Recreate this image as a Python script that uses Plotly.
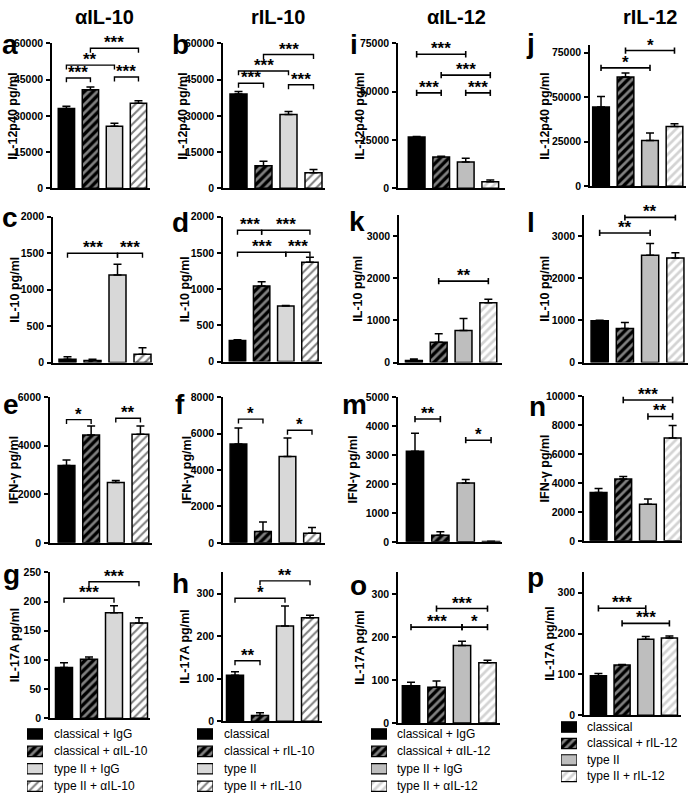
import plotly.graph_objects as go

FONT = "Liberation Sans, Arial, sans-serif"
W, H = 689, 801

# ---------------- data ----------------
column_titles = ["αIL-10", "rIL-10", "αIL-12", "rIL-12"]

a_values = [33000, 40800, 25700, 35200]; a_errors = [1000, 1100, 1200, 1000]
b_values = [39000, 9300, 30500, 6400];   b_errors = [1100, 1900, 1300, 1400]
i_values = [26500, 16200, 13600, 3300];  i_errors = [300, 300, 1900, 900]
j_values = [44400, 61300, 25600, 33500]; j_errors = [5900, 2200, 4200, 1500]
c_values = [45, 30, 1200, 115];          c_errors = [35, 15, 148, 90]
d_values = [290, 1043, 768, 1372];       d_errors = [12, 60, 6, 68]
k_values = [50, 480, 760, 1420];         k_errors = [35, 205, 285, 80]
l_values = [990, 810, 2540, 2480];       l_errors = [10, 140, 280, 120]
e_values = [3180, 4440, 2480, 4470];     e_errors = [230, 370, 90, 340]
f_values = [5420, 620, 4740, 530];       f_errors = [880, 520, 1010, 310]
m_values = [3130, 225, 2030, 15];        m_errors = [620, 125, 120, 8]
n_values = [3340, 4280, 2530, 7110];     n_errors = [270, 160, 360, 860]
g_values = [87, 101, 181, 163];          g_errors = [8, 4, 12, 9]
h_values = [108, 13, 224, 243];          h_errors = [8, 7, 47, 6]
o_values = [87, 83, 180, 140];           o_errors = [8, 15, 10, 6]
p_values = [97, 123, 186, 189];          p_errors = [5, 1.5, 7, 5]

# significance brackets: (bar from, bar to, height, label)
a_sig = [(0, 1, 45700, "***"), (0, 2, 51000, "**"), (1, 3, 58000, "***"), (2, 3, 46100, "***")]
b_sig = [(0, 1, 43500, "***"), (0, 2, 48600, "***"), (1, 3, 55400, "***"), (2, 3, 42900, "***")]
i_sig = [(0, 2, 69400, "***"), (0, 1, 49400, "***"), (1, 3, 58600, "***"), (2, 3, 49400, "***")]
j_sig = [(0, 2, 66400, "*"), (1, 3, 76100, "*")]
c_sig = [(0, 2, 1500, "***"), (2, 3, 1500, "***")]
d_sig = [(0, 1, 1814, "***"), (1, 3, 1814, "***"), (0, 2, 1510, "***"), (2, 3, 1510, "***")]
k_sig = [(1, 3, 1930, "**")]
l_sig = [(0, 2, 3070, "**"), (1, 3, 3440, "**")]
e_sig = [(0, 1, 5070, "*"), (2, 3, 5130, "**")]
f_sig = [(0, 1, 6790, "*"), (2, 3, 6180, "*")]
m_sig = [(0, 1, 4240, "**"), (2, 3, 3510, "*")]
n_sig = [(1, 3, 9730, "***"), (2, 3, 8590, "**")]
g_sig = [(0, 2, 205.6, "***"), (1, 3, 234, "***")]
h_sig = [(0, 1, 142, "**"), (0, 2, 289, "*"), (1, 3, 330, "**")]
o_sig = [(1, 3, 266, "***"), (0, 2, 223, "***"), (2, 3, 223, "*")]
p_sig = [(0, 2, 262, "***"), (1, 3, 225, "***")]

# y axis: (max, tick step, title)
axis_specs = {
    "a": (60000, 15000, "IL-12p40 pg/ml"), "b": (60000, 15000, "IL-12p40 pg/ml"),
    "i": (75000, 25000, "IL-12p40 pg/ml"), "j": (79000, 25000, "IL-12p40 pg/ml"),
    "c": (2000, 500, "IL-10 pg/ml"), "d": (2000, 500, "IL-10 pg/ml"),
    "k": (3500, 1000, "IL-10 pg/ml"), "l": (3500, 1000, "IL-10 pg/ml"),
    "e": (6000, 2000, "IFN-γ pg/ml"), "f": (8000, 2000, "IFN-γ pg/ml"),
    "m": (5000, 1000, "IFN-γ pg/ml"), "n": (10000, 2000, "IFN-γ pg/ml"),
    "g": (250, 50, "IL-17A pg/ml"), "h": (350, 100, "IL-17A pg/ml"),
    "o": (350, 100, "IL-17A pg/ml"), "p": (350, 100, "IL-17A pg/ml"),
}

legend_g = ["classical + IgG", "classical + αIL-10", "type II + IgG", "type II + αIL-10"]
legend_h = ["classical", "classical + rIL-10", "type II", "type II + rIL-10"]
legend_o = ["classical + IgG", "classical + αIL-12", "type II + IgG", "type II + αIL-12"]
legend_p = ["classical", "classical + rIL-12", "type II", "type II + rIL-12"]

data = {
    "a": (a_values, a_errors, a_sig), "b": (b_values, b_errors, b_sig),
    "i": (i_values, i_errors, i_sig), "j": (j_values, j_errors, j_sig),
    "c": (c_values, c_errors, c_sig), "d": (d_values, d_errors, d_sig),
    "k": (k_values, k_errors, k_sig), "l": (l_values, l_errors, l_sig),
    "e": (e_values, e_errors, e_sig), "f": (f_values, f_errors, f_sig),
    "m": (m_values, m_errors, m_sig), "n": (n_values, n_errors, n_sig),
    "g": (g_values, g_errors, g_sig), "h": (h_values, h_errors, h_sig),
    "o": (o_values, o_errors, o_sig), "p": (p_values, p_errors, p_sig),
}
legends = {"g": legend_g, "h": legend_h, "o": legend_o, "p": legend_p}

# ---------------- layout (pixels) ----------------
# x0, x1, ytop, ybot, xr0, xr1
boxes = {
    "a": (52, 150, 38, 185, -0.60, 3.48), "b": (223, 325, 38, 185, -0.62, 3.46),
    "i": (398, 505, 38, 185, -0.76, 3.60), "j": (590, 686, 40, 183, -0.45, 3.47),
    "c": (53, 153, 214, 362, -0.58, 3.42), "d": (223, 322, 214, 361, -0.60, 3.50),
    "k": (399, 502, 212, 362, -0.60, 3.55), "l": (584, 688, 212, 362, -0.62, 3.50),
    "e": (50, 152, 397, 545, -0.67, 3.47), "f": (223, 325, 397, 545, -0.63, 3.53),
    "m": (398, 502, 397, 544, -0.67, 3.43), "n": (584, 682, 396, 543, -0.59, 3.38),
    "g": (50, 150, 575, 723, -0.56, 3.44), "h": (223, 322, 575, 726, -0.48, 3.48),
    "o": (398, 500, 575, 728, -0.51, 3.49), "p": (584, 681, 575, 720, -0.61, 3.49),
}
letter_pos = {  # center x, baseline y
    "a": (10, 47), "b": (180, 47), "i": (354, 47), "j": (530, 46),
    "c": (10, 223), "d": (181, 228), "k": (357, 227), "l": (531, 228),
    "e": (11, 413), "f": (180, 413), "m": (354, 413), "n": (537, 415),
    "g": (11, 586), "h": (180, 595), "o": (358, 597), "p": (535, 589),
}
ytitle_x = {"a": 13, "b": 183, "i": 360, "j": 545, "c": 15, "d": 185, "k": 358, "l": 545,
            "e": 14, "f": 187, "m": 353, "n": 545, "g": 15, "h": 185, "o": 360, "p": 550}
# legend swatch box: x0, x1, first row center, row pitch, text x
legend_box = {"g": (27, 43, 739, 17.7, 52), "h": (197, 213, 739, 17.7, 222),
              "o": (371, 387, 739, 17.7, 395), "p": (561, 577, 732, 16.7, 585)}
col_title_x = [104, 278, 456, 650]

left_cols = set("abcdefgh")


def styles(panel):
    left = panel in left_cols
    black = dict(color="black", line=dict(color="black", width=1.5))
    hatch_b = dict(color="black", line=dict(color="black", width=1.5),
                   pattern=dict(shape="/", bgcolor="black", fgcolor="white", size=6, solidity=0.45))
    gray = dict(color="#d8d8d8" if left else "#bebebe", line=dict(color="black", width=1.5))
    if left:
        hatch_w = dict(color="white", line=dict(color="black", width=1.5),
                       pattern=dict(shape="/", bgcolor="white", fgcolor="black", size=6, solidity=0.35))
    else:
        hatch_w = dict(color="white", line=dict(color="black", width=1.5),
                       pattern=dict(shape="/", bgcolor="white", fgcolor="#a8a8a8", size=6, solidity=0.45))
    return [black, hatch_b, gray, hatch_w]


fig = go.Figure()
layout = dict(width=W, height=H, margin=dict(l=0, r=0, t=0, b=0), autosize=False,
              paper_bgcolor="white", plot_bgcolor="rgba(0,0,0,0)", barmode="overlay",
              showlegend=False, font=dict(family=FONT, color="black"))
annotations = []


def axis_names(n):
    return (("x" if n == 1 else f"x{n}"), ("y" if n == 1 else f"y{n}"),
            ("xaxis" if n == 1 else f"xaxis{n}"), ("yaxis" if n == 1 else f"yaxis{n}"))


order = ["a", "b", "i", "j", "c", "d", "k", "l", "e", "f", "m", "n", "g", "h", "o", "p"]
for n, panel in enumerate(order, start=1):
    vals, errs, sig = data[panel]
    x0, x1, yt, yb, r0, r1 = boxes[panel]
    ymax, dtick, ytitle = axis_specs[panel]
    xa, ya, xkey, ykey = axis_names(n)
    layout[xkey] = dict(domain=[x0 / W, x1 / W], range=[r0, r1], anchor=ya,
                        showline=True, linecolor="black", linewidth=1.5, ticks="",
                        showticklabels=False, showgrid=False, zeroline=False, fixedrange=True)
    layout[ykey] = dict(domain=[1 - yb / H, 1 - yt / H], range=[0, ymax], anchor=xa,
                        showline=True, linecolor="black", linewidth=1.5, ticks="outside",
                        ticklen=4, tickwidth=1.5, tickcolor="black", dtick=dtick, tick0=0,
                        tickformat="d", ticklabelstandoff=1,
                        tickfont=dict(size=10.5, family=FONT, weight="bold", color="black"),
                        showgrid=False, zeroline=False, fixedrange=True)
    st = styles(panel)
    for k in range(4):
        fig.add_trace(go.Bar(x=[k], y=[vals[k]], width=[0.68], marker=st[k], xaxis=xa, yaxis=ya,
                             error_y=dict(type="data", array=[errs[k]], arrayminus=[0],
                                          symmetric=False, color="black", thickness=1.5, width=4),
                             hoverinfo="skip"))
    # brackets
    px_per_unit = (yb - yt) / ymax
    left = panel in left_cols
    for (i1, i2, yv, lab) in sig:
        if left:
            d = 4.5 / px_per_unit
            xs = [i1, i1, i2, i2]
            ys = [yv - d, yv, yv, yv - d]
        else:
            d = 3.2 / px_per_unit
            xs = [i1, i1, None, i1, i2, None, i2, i2]
            ys = [yv - d, yv + d, None, yv, yv, None, yv - d, yv + d]
        fig.add_trace(go.Scatter(x=xs, y=ys, mode="lines", xaxis=xa, yaxis=ya,
                                 line=dict(color="black", width=1.4 if left else 1.6),
                                 hoverinfo="skip"))
        annotations.append(dict(x=(i1 + i2) / 2, y=yv, xref=xa, yref=ya, text=lab,
                                showarrow=False, yanchor="bottom", yshift=-6,
                                font=dict(size=17, family=FONT, weight="bold", color="black")))
    # y title
    annotations.append(dict(x=ytitle_x[panel] / W, y=1 - (yt + yb) / 2 / H, xref="paper", yref="paper",
                            text=ytitle, textangle=-90, showarrow=False,
                            xanchor="center", yanchor="middle",
                            font=dict(size=12.5, family=FONT, weight="bold", color="black")))
    # panel letter
    lx, lb = letter_pos[panel]
    annotations.append(dict(x=lx / W, y=1 - (lb - 0.3 * 28) / H, xref="paper", yref="paper",
                            text=panel, showarrow=False, xanchor="center", yanchor="middle",
                            font=dict(size=28, family=FONT, weight="bold", color="black")))

# ---------------- legends (swatch rows on hidden axes) ----------------
n = len(order)
for panel, labels in legends.items():
    n += 1
    xa, ya, xkey, ykey = axis_names(n)
    sx0, sx1, row0, pitch, tx = legend_box[panel]
    top = row0 - pitch / 2
    bottom = top + pitch * len(labels)
    layout[xkey] = dict(domain=[sx0 / W, sx1 / W], range=[0, 1], anchor=ya, visible=False,
                        fixedrange=True)
    layout[ykey] = dict(domain=[1 - bottom / H, 1 - top / H], range=[len(labels) - 0.5, -0.5],
                        anchor=xa, visible=False, fixedrange=True)
    st = styles(panel)
    for k, lab in enumerate(labels):
        mk = dict(st[k])
        mk["line"] = dict(color="black", width=1.2)
        fig.add_trace(go.Bar(y=[k], x=[1], orientation="h", width=[10.5 / pitch], marker=mk,
                             xaxis=xa, yaxis=ya, hoverinfo="skip"))
        annotations.append(dict(x=tx / W, y=1 - (row0 + k * pitch) / H, xref="paper", yref="paper",
                                text=lab, showarrow=False, xanchor="left", yanchor="middle",
                                font=dict(size=12, family=FONT, color="black")))

for t, cx in zip(column_titles, col_title_x):
    annotations.append(dict(x=cx / W, y=1 - 11 / H, xref="paper", yref="paper", text=t,
                            showarrow=False, xanchor="center", yanchor="middle",
                            font=dict(size=20, family=FONT, weight="bold", color="black")))

layout["annotations"] = annotations
fig.update_layout(**layout)
fig.write_html("out.html", config={"displayModeBar": False},
               post_script="document.body.style.margin='0';document.body.style.overflow='hidden';")
